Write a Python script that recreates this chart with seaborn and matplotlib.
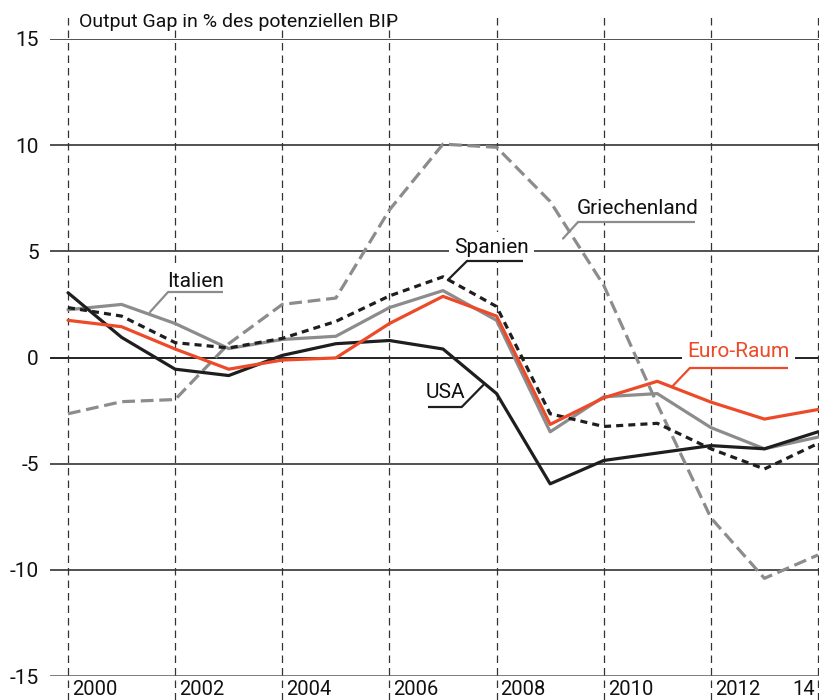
import numpy as np
import pandas as pd
import matplotlib
matplotlib.use("Agg")
import matplotlib.pyplot as plt
import matplotlib.transforms as mtransforms
import seaborn as sns

years = list(range(2000, 2015))
usa = [3.05, 0.95, -0.55, -0.85, 0.1, 0.65, 0.8, 0.4, -1.7, -5.95, -4.85, -4.5, -4.15, -4.3, -3.5]
italien = [2.25, 2.5, 1.6, 0.42, 0.85, 1.0, 2.35, 3.15, 1.75, -3.5, -1.85, -1.7, -3.3, -4.3, -3.75]
euro = [1.75, 1.45, 0.4, -0.55, -0.12, -0.02, 1.6, 2.88, 1.95, -3.15, -1.9, -1.12, -2.1, -2.9, -2.45]
spanien = [2.35, 1.95, 0.7, 0.45, 0.9, 1.7, 2.9, 3.8, 2.4, -2.65, -3.25, -3.1, -4.3, -5.25, -4.05]
griechenland = [-2.65, -2.08, -1.98, 0.65, 2.5, 2.8, 6.95, 10.05, 9.9, 7.35, 3.4, -2.2, -7.55, -10.4, -9.3]

yticks = [15, 10, 5, 0, -5, -10, -15]
xticks = [2000, 2002, 2004, 2006, 2008, 2010, 2012, 2014]
xlabels = ["2000", "2002", "2004", "2006", "2008", "2010", "2012", "14"]
title = "Output Gap in % des potenziellen BIP"

order = ["Griechenland", "Italien", "Spanien", "USA", "Euro-Raum"]
colors = {"Griechenland": "#8c8c8c", "Italien": "#8c8c8c", "Spanien": "#1e1e1e",
          "USA": "#1e1e1e", "Euro-Raum": "#ec4a28"}
dashes = {"Griechenland": (4, 1.8), "Italien": "", "Spanien": (2.2, 1.6),
          "USA": "", "Euro-Raum": ""}

df = pd.DataFrame({
    "Jahr": years * 5,
    "Wert": griechenland + italien + spanien + usa + euro,
    "Land": sum([[n] * len(years) for n in order], []),
})

sns.set_style("white")
plt.rcParams["font.family"] = ["Roboto", "DejaVu Sans"]
plt.rcParams["font.size"] = 14

fig = plt.figure(figsize=(8.19, 7.0), dpi=100)
ax = fig.add_axes([50 / 819, 24 / 700, 769 / 819, 637 / 700])

for v in yticks:
    if v == 0:
        ax.axhline(v, color="#111111", lw=1.3, zorder=1)
    elif v == -15:
        ax.axhline(v, color="#555555", lw=1.8, zorder=1)
    else:
        ax.axhline(v, color="#222222", lw=1.1, zorder=1)

ext = 24 / 637
for x in xticks:
    ax.axvline(x, ymin=-ext, ymax=1 + ext, color="#333333", lw=0.9,
               dashes=(6, 4), clip_on=False, zorder=1)

sns.lineplot(data=df, x="Jahr", y="Wert", hue="Land", style="Land",
             hue_order=order, style_order=order, palette=colors,
             dashes=dashes, lw=2.3, legend=False, ax=ax, zorder=3)

ax.set_xlim(2000 - 18 / 53.57, 2014 + 1 / 53.57)
ax.set_ylim(-15, 15)
sns.despine(ax=ax, left=True, bottom=True)
ax.set_xlabel("")
ax.set_ylabel("")

ax.set_yticks(yticks)
ax.set_yticklabels([str(v) for v in yticks])
ax.tick_params(axis="y", length=0, pad=8, labelsize=15, labelcolor="#111111")
ax.set_xticks(xticks)
ax.set_xticklabels(xlabels)
ax.tick_params(axis="x", length=0, pad=3, labelsize=14.5, labelcolor="#111111")
for lab in ax.get_xticklabels():
    if lab.get_text() == "14":
        lab.set_ha("right")
        off = mtransforms.ScaledTranslation(-3 / 100, 0, fig.dpi_scale_trans)
    else:
        lab.set_ha("left")
        off = mtransforms.ScaledTranslation(4 / 100, 0, fig.dpi_scale_trans)
    lab.set_transform(lab.get_transform() + off)

ax.text(2000.2, 15.8, title, ha="left", va="center", fontsize=14, color="#111111")

# callout labels: text, underline, leader
callouts = [
    ("Italien", 2002.38, 3.56, (2001.87, 2002.89, 3.09), (2001.53, 2.14), "left", "#8c8c8c", "#111111"),
    ("Spanien", 2007.91, 5.2, (2007.45, 2008.49, 4.55), (2007.09, 3.65), "left", "#1e1e1e", "#111111"),
    ("Griechenland", 2010.64, 7.04, (2009.52, 2011.70, 6.38), (2009.24, 5.6), "left", "#8c8c8c", "#111111"),
    ("USA", 2007.04, -1.63, (2006.72, 2007.35, -2.33), (2007.75, -1.3), "right", "#1e1e1e", "#111111"),
    ("Euro-Raum", 2012.51, 0.26, (2011.61, 2013.44, -0.49), (2011.27, -1.39), "left", "#ec4a28", "#ec4a28"),
]
for name, tx, ty, (u0, u1, uy), (lx, ly), side, lc, tc in callouts:
    ax.text(tx, ty, name, ha="center", va="center", fontsize=15, color=tc, zorder=4,
            bbox=dict(boxstyle="square,pad=0.25", fc="white", ec="none"))
    ax.plot([u0, u1], [uy, uy], color=lc, lw=1.6, zorder=4, solid_capstyle="butt")
    sx = u0 if side == "left" else u1
    ax.plot([sx, lx], [uy, ly], color=lc, lw=1.6, zorder=4)

fig.savefig("out.png", dpi=100)
